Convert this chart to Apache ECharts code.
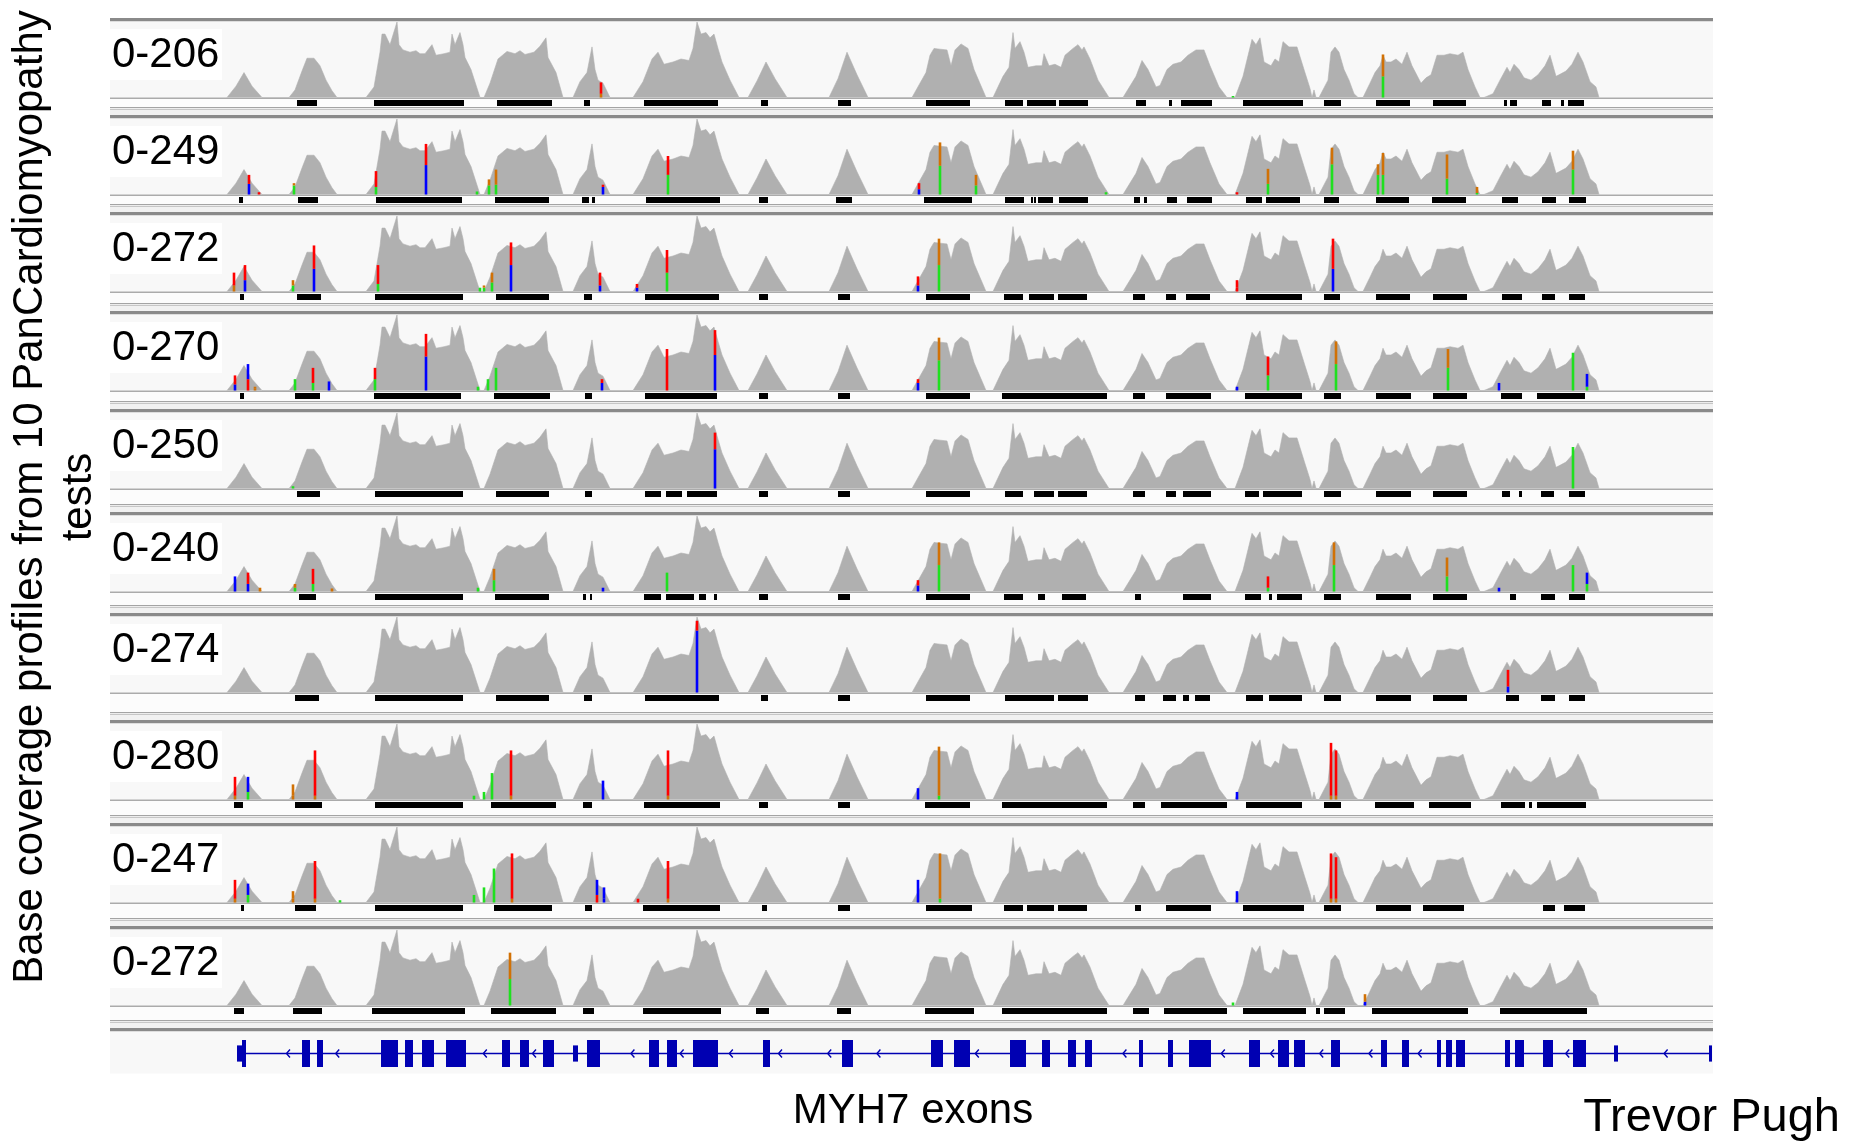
<!DOCTYPE html>
<html>
<head>
<meta charset="utf-8">
<title>MYH7 base coverage</title>
<script src="https://cdn.jsdelivr.net/npm/echarts@6.0.0/dist/echarts.min.js"></script>
<style>
  html, body { margin: 0; padding: 0; background: #fff; }
  #chart { width: 1850px; height: 1145px; }
</style>
</head>
<body>
<div id="chart"></div>
<script>
// IGV-like autoscale range of each sample track
var trackLabels = ['0-206', '0-249', '0-272', '0-270', '0-250', '0-240', '0-274', '0-280', '0-247', '0-272'];

// coverage profile over the locus: [position, % of the track range]
var coverage = [
  [227,0],[236,15],[244,33],[252,15],[262,0],
  [289,0],[295,10],[302,35],[307,52],[314,52],[320,42],[326,23],[332,9],[337,0],
  [366,0],[374,14],[380,60],[382,84],[385,84],[390,70],[397,100],[399,70],[403,63],[410,60],[416,62],[420,58],[425,58],[432,70],[436,56],[444,58],[450,60],[452,84],[455,70],[460,86],[463,70],[465,53],[471,37],[480,0],
  [484,0],[490,19],[498,51],[507,61],[515,58],[520,62],[525,57],[534,60],[540,68],[546,79],[548,53],[556,33],[563,0],
  [573,0],[580,21],[587,33],[592,67],[595,37],[598,23],[603,19],[610,0],
  [633,0],[643,21],[652,51],[658,60],[664,44],[673,47],[681,51],[689,49],[693,65],[697,100],[701,84],[706,86],[710,79],[714,84],[718,65],[722,47],[730,23],[739,0],
  [748,0],[757,22],[766,47],[775,25],[787,0],
  [829,0],[838,25],[847,60],[857,30],[868,0],
  [912,0],[920,19],[926,33],[930,56],[934,65],[940,64],[947,63],[951,42],[955,63],[961,71],[968,65],[974,37],[986,0],
  [993,0],[1003,28],[1009,40],[1013,86],[1015,65],[1020,74],[1024,60],[1028,40],[1036,42],[1042,42],[1044,58],[1049,42],[1055,44],[1061,40],[1065,56],[1073,65],[1078,70],[1082,63],[1084,67],[1090,51],[1098,23],[1109,0],
  [1123,0],[1136,28],[1142,49],[1148,37],[1156,14],[1160,16],[1167,37],[1173,44],[1181,47],[1188,56],[1196,63],[1204,63],[1210,42],[1219,14],[1227,0],
  [1235,0],[1243,28],[1252,77],[1256,70],[1260,79],[1264,47],[1271,42],[1275,51],[1279,47],[1283,74],[1289,67],[1297,67],[1304,37],[1310,12],[1312,0],[1314,10],[1316,0],
  [1319,0],[1328,23],[1331,60],[1335,67],[1339,60],[1344,37],[1349,23],[1354,5],[1358,0],
  [1363,0],[1370,19],[1375,33],[1380,42],[1383,56],[1386,47],[1391,47],[1396,51],[1402,44],[1407,60],[1412,42],[1421,19],[1426,26],[1431,30],[1437,56],[1444,56],[1450,58],[1458,56],[1463,60],[1468,37],[1475,14],[1480,0],
  [1484,0],[1493,5],[1500,23],[1507,40],[1510,33],[1514,44],[1519,37],[1524,26],[1531,23],[1538,30],[1545,42],[1550,56],[1556,28],[1559,30],[1566,35],[1572,44],[1578,60],[1583,47],[1590,21],[1596,14],[1599,0]
];

// mismatch bars per track: [position, lower %, upper %, lower base, upper base]
var variants = [
  [[601,5,20,'G','T'],[1233,2,2,'A','A'],[1383,28,57,'A','G']],
  [[249,14,26,'C','T'],[259,3,3,'T','T'],[294,12,15,'A','G'],[376,10,31,'A','T'],[426,39,67,'C','T'],[477,4,4,'A','A'],[489,12,20,'A','G'],[496,13,33,'A','G'],[603,10,13,'C','T'],[668,26,51,'A','T'],[919,7,15,'C','T'],[940,38,69,'A','G'],[976,12,26,'A','G'],[1106,3,3,'A','A'],[1237,3,3,'T','T'],[1268,14,34,'A','G'],[1332,40,62,'A','G'],[1378,26,40,'A','G'],[1383,26,55,'A','G'],[1447,21,53,'A','G'],[1477,2,10,'A','G'],[1573,33,58,'A','G']],
  [[234,8,25,'G','T'],[245,15,35,'C','T'],[293,8,15,'A','G'],[314,30,61,'C','T'],[378,10,35,'A','T'],[480,5,5,'A','A'],[484,5,8,'A','G'],[492,12,25,'A','G'],[511,35,65,'C','T'],[600,8,25,'C','T'],[637,5,10,'C','T'],[667,25,55,'A','T'],[918,8,20,'C','T'],[939,35,70,'A','G'],[1237,5,15,'T','T'],[1333,30,70,'C','T']],
  [[235,8,20,'C','T'],[248,15,35,'T','C'],[255,3,5,'G','G'],[295,15,15,'A','A'],[313,10,30,'A','T'],[329,12,12,'C','C'],[375,15,30,'A','T'],[426,45,75,'C','T'],[478,5,5,'A','A'],[488,15,15,'A','A'],[496,30,30,'A','A'],[602,10,15,'C','T'],[667,55,55,'T','T'],[715,47,80,'C','T'],[918,10,15,'C','T'],[939,40,70,'A','G'],[1237,5,5,'C','C'],[1268,20,45,'A','T'],[1336,35,65,'A','G'],[1448,30,55,'A','G'],[1499,10,10,'C','C'],[1573,50,50,'A','A'],[1587,5,22,'A','C']],
  [[293,3,3,'A','A'],[715,52,74,'C','T'],[1573,55,55,'A','A']],
  [[235,20,20,'C','C'],[248,10,25,'C','T'],[260,5,5,'G','G'],[295,5,10,'A','G'],[313,10,30,'A','T'],[332,4,4,'G','G'],[478,5,5,'A','A'],[494,15,30,'A','G'],[603,5,5,'C','C'],[667,25,25,'A','A'],[918,8,15,'C','T'],[939,35,65,'A','G'],[1268,5,20,'A','T'],[1334,35,65,'A','G'],[1447,20,45,'A','G'],[1499,5,5,'C','C'],[1573,35,35,'A','A'],[1587,10,25,'A','C']],
  [[697,82,95,'C','T'],[1508,8,30,'C','T']],
  [[235,5,30,'G','T'],[248,10,30,'A','C'],[293,5,20,'G','G'],[315,5,65,'G','T'],[474,5,5,'A','A'],[484,10,10,'A','A'],[492,35,35,'A','A'],[511,5,65,'G','T'],[603,25,25,'C','C'],[668,5,65,'G','T'],[918,15,15,'C','C'],[939,5,70,'A','G'],[1237,10,10,'C','C'],[1331,5,75,'G','T'],[1336,5,65,'G','T']],
  [[235,5,30,'G','T'],[248,10,25,'A','C'],[293,5,15,'G','G'],[315,5,55,'G','T'],[340,3,3,'A','A'],[474,10,10,'A','A'],[484,20,20,'A','A'],[494,45,45,'A','A'],[512,5,65,'G','T'],[597,10,30,'T','C'],[604,5,20,'C','C'],[638,5,5,'T','T'],[668,5,55,'G','T'],[918,30,30,'C','C'],[940,5,65,'A','G'],[1237,15,15,'C','C'],[1331,5,65,'G','T'],[1336,5,60,'G','T']],
  [[510,35,70,'A','G'],[1233,4,4,'A','A'],[1365,5,15,'C','G']]
];

// covered-region bars under each track: [start, end]
var regionBars = [
  [[297,317],[374,464],[497,552],[584,590],[644,718],[761,768],[838,851],[926,970],[1005,1023],[1027,1056],[1059,1088],[1136,1146],[1169,1172],[1181,1212],[1243,1303],[1324,1341],[1376,1410],[1433,1466],[1504,1507],[1510,1517],[1542,1551],[1561,1564],[1568,1584]],
  [[239,243],[298,318],[376,462],[495,549],[582,589],[592,595],[646,720],[759,768],[836,852],[924,972],[1005,1024],[1031,1033],[1034,1036],[1038,1053],[1059,1088],[1134,1140],[1144,1147],[1167,1177],[1187,1212],[1246,1262],[1266,1300],[1324,1339],[1376,1409],[1432,1466],[1502,1518],[1542,1556],[1569,1586]],
  [[240,244],[297,321],[375,463],[496,549],[584,592],[645,719],[759,768],[838,850],[926,970],[1004,1023],[1029,1054],[1058,1087],[1133,1145],[1166,1176],[1186,1210],[1246,1302],[1324,1340],[1376,1410],[1433,1467],[1502,1522],[1542,1555],[1569,1585]],
  [[240,244],[295,320],[374,461],[494,550],[585,592],[645,717],[759,768],[838,850],[926,970],[1002,1107],[1133,1145],[1166,1211],[1245,1302],[1324,1341],[1376,1411],[1433,1467],[1501,1522],[1537,1585]],
  [[297,320],[375,463],[496,549],[585,592],[645,661],[666,682],[687,717],[759,768],[838,850],[926,970],[1005,1023],[1034,1054],[1058,1087],[1133,1145],[1166,1176],[1183,1211],[1245,1259],[1263,1302],[1324,1341],[1376,1411],[1433,1467],[1502,1510],[1519,1522],[1541,1554],[1569,1585]],
  [[299,316],[375,463],[495,549],[583,586],[590,592],[644,661],[666,694],[699,706],[714,717],[759,768],[838,850],[926,970],[1004,1023],[1038,1045],[1062,1086],[1135,1141],[1183,1211],[1245,1261],[1269,1272],[1277,1302],[1324,1341],[1376,1411],[1433,1467],[1510,1516],[1541,1555],[1569,1585]],
  [[295,319],[375,463],[496,549],[584,592],[645,719],[761,768],[838,850],[926,970],[1005,1054],[1058,1088],[1135,1145],[1163,1176],[1183,1189],[1195,1210],[1246,1263],[1269,1302],[1324,1341],[1376,1411],[1433,1467],[1506,1519],[1541,1555],[1569,1585]],
  [[234,243],[295,322],[375,463],[491,556],[583,592],[644,720],[759,768],[838,850],[925,970],[1002,1107],[1133,1145],[1161,1227],[1246,1302],[1324,1341],[1375,1414],[1429,1471],[1501,1525],[1529,1532],[1537,1586]],
  [[241,244],[295,316],[375,463],[494,552],[585,592],[643,720],[762,767],[838,850],[926,972],[1004,1023],[1027,1054],[1058,1087],[1135,1141],[1166,1211],[1243,1304],[1324,1341],[1376,1411],[1423,1464],[1543,1555],[1564,1585]],
  [[234,244],[293,322],[372,465],[491,556],[583,594],[643,721],[756,769],[837,851],[925,974],[1002,1107],[1133,1149],[1164,1227],[1243,1306],[1316,1320],[1324,1345],[1372,1468],[1500,1587]]
];

// MYH7 gene model: [start, end, coding (1) or UTR (0)]
var exons = [
  [237,242,0],[242,246,1],[302,310,1],[317,323,1],[381,398,1],[405,413,1],[422,434,1],[446,466,1],[502,510,1],[520,529,1],[543,554,1],[573,578,0],[587,600,1],
  [649,659,1],[667,677,1],[693,718,1],[763,770,1],[842,853,1],[931,943,1],[954,970,1],[1010,1026,1],[1042,1050,1],[1068,1076,1],[1085,1092,1],[1139,1143,1],
  [1168,1173,1],[1189,1211,1],[1249,1260,1],[1278,1289,1],[1294,1305,1],[1331,1340,1],[1381,1387,1],[1402,1409,1],[1437,1441,1],[1446,1452,1],[1456,1465,1],
  [1505,1510,1],[1515,1524,1],[1543,1553,1],[1573,1586,1],[1614,1618,0],[1709,1712,0]
];
var geneSpan = [237, 1711];

// ---- layout ----
var posMin = 110, posMax = 1713;
var plotLeft = 110, plotWidth = 1603;
var trackTops = [20, 117, 214, 313, 411, 514, 615, 722, 825, 928];
var geneTop = 1030;
var fontFam = '"Liberation Sans", Arial, Helvetica, sans-serif';
var baseColors = { A: '#1fe01f', C: '#0000ff', G: '#d17105', T: '#ff0000' };

var grids = [], xAxes = [], yAxes = [], series = [], graphics = [];

function addGrid(top, height, ymax) {
  grids.push({ left: plotLeft, width: plotWidth, top: top, height: height });
  var idx = grids.length - 1;
  xAxes.push({ gridIndex: idx, type: 'value', min: posMin, max: posMax, show: false });
  yAxes.push({ gridIndex: idx, type: 'value', min: 0, max: ymax, show: false });
  return idx;
}

function hline(y, h, color) {
  graphics.push({ type: 'rect', z: -5, silent: true,
    shape: { x: plotLeft, y: y, width: plotWidth, height: h }, style: { fill: color } });
}

trackTops.forEach(function (T, t) {
  var N = t < trackTops.length - 1 ? trackTops[t + 1] : geneTop;

  // panel frame like IGV
  hline(T - 2, 3.5, '#8a8a8a');
  hline(T + 1.5, 76, '#f8f8f8');
  hline(T + 77.5, 1.5, '#ababab');
  hline(T + 79, N - T - 89, '#fcfcfc');
  hline(N - 10, 1.2, '#a4a4a4');
  hline(N - 8.5, 6.5, '#f1f1f1');
  hline(N - 8, 1, '#c6c6c6');

  // coverage
  var g = addGrid(T + 2, 75.5, 100);
  series.push({
    type: 'line', xAxisIndex: g, yAxisIndex: g, data: coverage,
    symbol: 'none', silent: true, z: 2,
    lineStyle: { color: '#b0b0b0', width: 0.6 },
    areaStyle: { color: '#b0b0b0', opacity: 1 }
  });

  // mismatches
  var vlist = variants[t];
  series.push({
    type: 'custom', xAxisIndex: g, yAxisIndex: g, silent: true, z: 3,
    data: vlist.map(function (v) { return [v[0], v[1], v[2]]; }),
    renderItem: function (params, api) {
      var v = vlist[params.dataIndex];
      var p0 = api.coord([v[0], 0]);
      var p1 = api.coord([v[0], v[1]]);
      var p2 = api.coord([v[0], v[2]]);
      var w = 2.6;
      var kids = [{ type: 'rect', shape: { x: p0[0] - w / 2, y: p1[1], width: w, height: Math.max(p0[1] - p1[1], 1.5) },
        style: { fill: baseColors[v[3]] } }];
      if (v[2] > v[1]) {
        kids.push({ type: 'rect', shape: { x: p0[0] - w / 2, y: p2[1], width: w, height: p1[1] - p2[1] },
          style: { fill: baseColors[v[4]] } });
      }
      return { type: 'group', children: kids };
    }
  });

  // region bars strip
  var gb = addGrid(T + 80, 6, 1);
  series.push({
    type: 'custom', xAxisIndex: gb, yAxisIndex: gb, silent: true, z: 3,
    data: regionBars[t],
    renderItem: function (params, api) {
      var a = api.coord([api.value(0), 1]);
      var b = api.coord([api.value(1), 0]);
      return { type: 'rect', shape: { x: a[0], y: a[1], width: Math.max(b[0] - a[0], 2), height: b[1] - a[1] },
        style: { fill: '#000' } };
    }
  });

  // scale label
  graphics.push({ type: 'rect', z: 40, silent: true,
    shape: { x: plotLeft, y: T + 9, width: 112, height: 51 }, style: { fill: '#ffffff' } });
  graphics.push({ type: 'text', z: 41, silent: true, x: plotLeft + 2, y: T + 35,
    style: { text: trackLabels[t], fontSize: 42, fontFamily: fontFam, fill: '#000',
      align: 'left', verticalAlign: 'middle', textAlign: 'left', textVerticalAlign: 'middle' } });
});

// gene track
hline(geneTop - 2, 3.5, '#8a8a8a');
hline(geneTop + 1.5, 42, '#f8f8f8');
var gg = addGrid(geneTop + 10, 27, 1);
var geneBlue = '#0000b2';
series.push({
  type: 'custom', xAxisIndex: gg, yAxisIndex: gg, silent: true, z: 2,
  data: [geneSpan],
  renderItem: function (params, api) {
    var a = api.coord([api.value(0), 0.5]);
    var b = api.coord([api.value(1), 0.5]);
    var kids = [{ type: 'line', shape: { x1: a[0], y1: a[1], x2: b[0], y2: b[1] },
      style: { stroke: geneBlue, lineWidth: 1.6 } }];
    // strand chevrons along introns
    for (var x = 288; x < api.value(1) - 20; x += 49.2) {
      var clear = exons.every(function (e) { return x < e[0] - 4 || x > e[1] + 4; });
      if (!clear) continue;
      var c = api.coord([x, 0.5]);
      kids.push({ type: 'polyline', shape: { points: [[c[0] + 2, c[1] - 4], [c[0] - 1.5, c[1]], [c[0] + 2, c[1] + 4]] },
        style: { stroke: geneBlue, lineWidth: 1.4, fill: null } });
    }
    return { type: 'group', children: kids };
  }
});
series.push({
  type: 'custom', xAxisIndex: gg, yAxisIndex: gg, silent: true, z: 3,
  data: exons,
  renderItem: function (params, api) {
    var coding = api.value(2) === 1;
    var a = api.coord([api.value(0), coding ? 1 : 0.8]);
    var b = api.coord([api.value(1), coding ? 0 : 0.2]);
    return { type: 'rect', shape: { x: a[0], y: a[1], width: Math.max(b[0] - a[0], 2), height: b[1] - a[1] },
      style: { fill: geneBlue } };
  }
});

// texts
graphics.push({ type: 'group', x: 55, y: 497, rotation: Math.PI / 2, silent: true, children: [
  { type: 'text', x: 0, y: 0, style: { text: 'Base coverage profiles from 10 PanCardiomyopathy\ntests',
    fontSize: 42, fontFamily: fontFam, fill: '#000', lineHeight: 49,
    align: 'center', verticalAlign: 'middle', textAlign: 'center', textVerticalAlign: 'middle' } }
] });
graphics.push({ type: 'text', x: 913, y: 1111, silent: true,
  style: { text: 'MYH7 exons', fontSize: 42, fontFamily: fontFam, fill: '#000',
    align: 'center', verticalAlign: 'middle', textAlign: 'center', textVerticalAlign: 'middle' } });
graphics.push({ type: 'text', x: 1840, y: 1118, silent: true,
  style: { text: 'Trevor Pugh', fontSize: 47, fontFamily: fontFam, fill: '#000',
    align: 'right', verticalAlign: 'middle', textAlign: 'right', textVerticalAlign: 'middle' } });

var myChart = echarts.init(document.getElementById('chart'));
myChart.setOption({
  animation: false,
  backgroundColor: '#ffffff',
  grid: grids,
  xAxis: xAxes,
  yAxis: yAxes,
  series: series,
  graphic: { elements: graphics }
});
</script>
</body>
</html>
